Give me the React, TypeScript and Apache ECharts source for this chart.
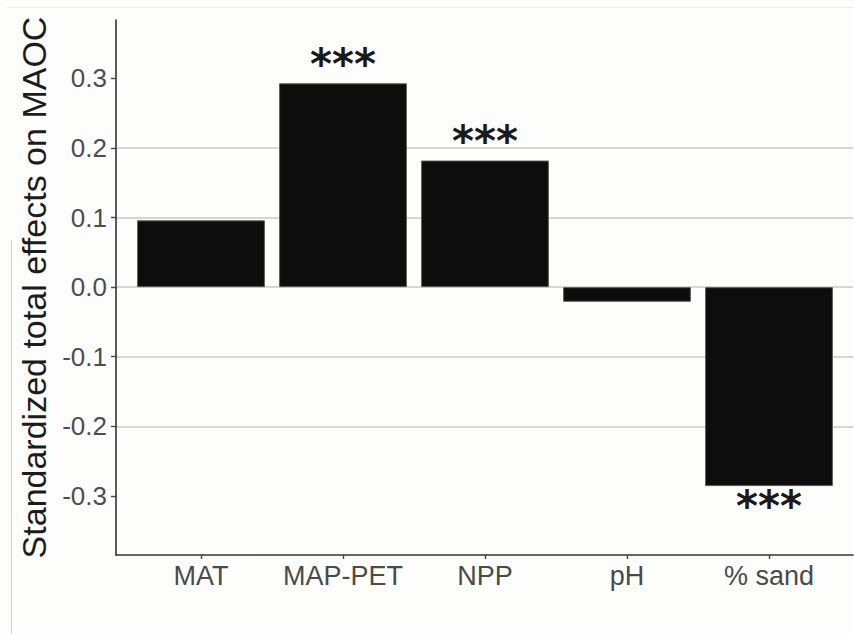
import React, { useEffect, useRef } from "react";
import * as echarts from "echarts";

// Standardized total effects of each driver on MAOC
const categories = ["MAT", "MAP-PET", "NPP", "pH", "% sand"];
const effects = [0.096, 0.293, 0.182, -0.021, -0.286];
const significance = ["", "***", "***", "", "***"];
const yTicks = [-0.3, -0.2, -0.1, 0, 0.1, 0.2, 0.3];
const yMin = -0.385;
const yMax = 0.384;

const FONT = "'Liberation Sans', Arial, Helvetica, sans-serif";

export default function App() {
  const ref = useRef<HTMLDivElement>(null);

  useEffect(() => {
    if (!ref.current) return;
    const chart = echarts.init(ref.current, null, { renderer: "svg" });

    const barData = effects.map((v, i) => ({
      value: v,
      label: {
        show: significance[i] !== "",
        formatter: significance[i],
        position: v >= 0 ? "top" : "bottom",
        distance: v >= 0 ? -2 : -1,
      },
    }));

    chart.setOption({
      animation: false,
      backgroundColor: "#fdfdfc",
      grid: [
        { left: 116, right: 1, top: 20, bottom: 79 },
        { left: 130, right: 14, top: 20, bottom: 79 },
      ],
      xAxis: [
        {
          gridIndex: 0,
          type: "value",
          min: 0,
          max: 1,
          axisLine: { show: true, onZero: false, lineStyle: { color: "#333333", width: 1.6 } },
          axisTick: { show: false },
          axisLabel: { show: false },
          splitLine: { show: false },
        },
        {
          gridIndex: 1,
          type: "category",
          data: categories,
          axisLine: { show: false, onZero: false },
          axisTick: {
            show: true,
            alignWithLabel: true,
            interval: 0,
            length: 4,
            lineStyle: { color: "#444444", width: 1.4 },
          },
          axisLabel: {
            interval: 0,
            margin: 7,
            fontFamily: FONT,
            fontSize: 27,
            color: "#4a4a4a",
          },
          splitLine: { show: false },
        },
      ],
      yAxis: [
        {
          gridIndex: 0,
          type: "value",
          min: yMin,
          max: yMax,
          splitNumber: 8,
          name: "Standardized total effects on MAOC",
          nameLocation: "middle",
          nameRotate: 90,
          nameGap: 62,
          nameTextStyle: { fontFamily: FONT, fontSize: 34, color: "#1c1c1c" },
          axisLine: { show: true, lineStyle: { color: "#333333", width: 1.6 } },
          axisTick: {
            show: true,
            length: 5,
            customValues: yTicks,
            lineStyle: { color: "#444444", width: 1.4 },
          },
          axisLabel: {
            customValues: yTicks,
            margin: 9,
            fontFamily: FONT,
            fontSize: 26,
            color: "#4d4d4d",
            formatter: (v: number) => v.toFixed(1),
          },
          splitLine: {
            show: true,
            showMinLine: false,
            showMaxLine: false,
            lineStyle: { color: "#d6d6d6", width: 1.8 },
          },
        },
        {
          gridIndex: 1,
          type: "value",
          min: yMin,
          max: yMax,
          show: false,
          splitLine: { show: false },
        },
      ],
      series: [
        {
          type: "bar",
          xAxisIndex: 1,
          yAxisIndex: 1,
          data: barData,
          barCategoryGap: "10%",
          itemStyle: { color: "#0d0d0d", borderColor: "#5a5a5a", borderWidth: 1 },
          label: {
            fontFamily: "'DejaVu Sans', sans-serif",
            fontSize: 42,
            fontWeight: "bold",
            color: "#1a1a1a",
          },
        },
      ],
      graphic: [
        {
          type: "line",
          shape: { x1: 7, y1: 7.5, x2: 854, y2: 7.5 },
          style: { stroke: "#eeeeee", lineWidth: 1 },
          silent: true,
        },
        {
          type: "line",
          shape: { x1: 11.5, y1: 240, x2: 11.5, y2: 634 },
          style: { stroke: "#cfcfcf", lineWidth: 1 },
          silent: true,
        },
      ],
    });

    return () => chart.dispose();
  }, []);

  return (
    <div
      ref={ref}
      style={{ position: "fixed", left: 0, top: 0, width: 854, height: 634 }}
    />
  );
}
